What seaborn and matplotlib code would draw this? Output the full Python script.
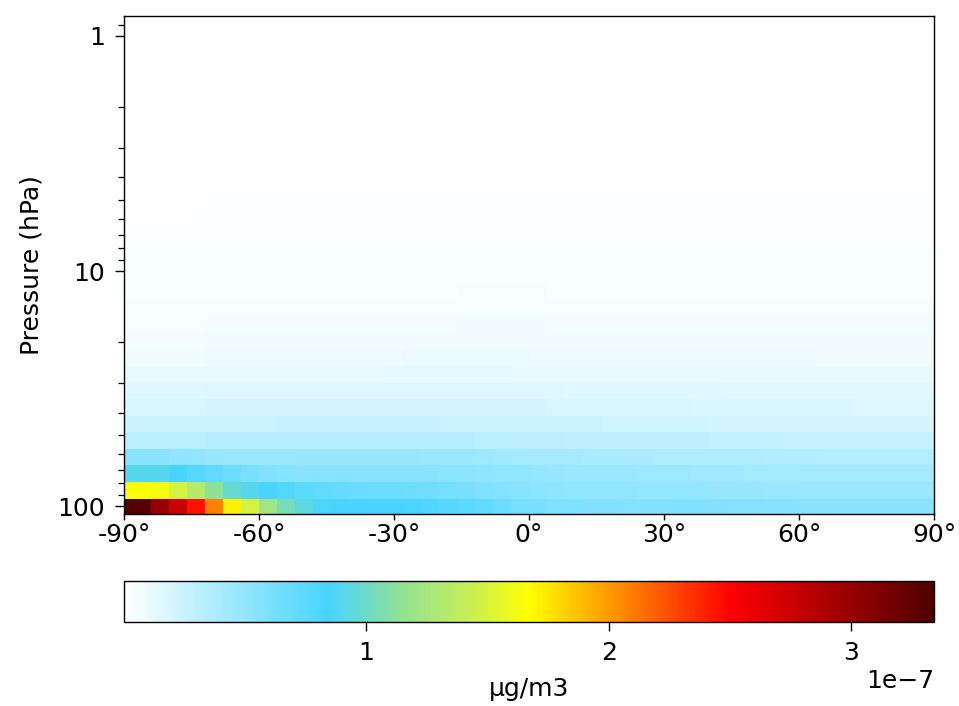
import numpy as np
import matplotlib
matplotlib.use("Agg")
import matplotlib.pyplot as plt
import seaborn as sns
from matplotlib.colors import LinearSegmentedColormap
from matplotlib.ticker import FixedLocator, FixedFormatter, LogLocator, NullFormatter

# ---------------- data ----------------
latitudes = [-90, -86, -82, -78, -74, -70, -66, -62, -58, -54, -50, -46, -42, -38, -34, -30,
             -26, -22, -18, -14, -10, -6, -2, 2, 6, 10, 14, 18, 22, 26, 30, 34, 38, 42, 46,
             50, 54, 58, 62, 66, 70, 74, 78, 82, 86, 90]
pressure = [100.51, 85.44, 72.56, 61.70, 52.52, 44.64, 37.94, 32.24, 27.41, 23.30, 19.80,
            16.83, 14.30, 12.15, 10.33, 8.78, 7.47, 6.35, 5.40, 4.59, 3.90, 3.31, 2.82,
            2.40, 2.04, 1.73, 1.47, 1.25, 1.06, 0.90]

# concentration in 1e-9 ug/m3, one list per pressure level (bottom level first)
r00 = [334,330,300,275,245,208,172,148,122,104,94,86,84,84,84,84,83,81,78,75,72,68,64,62,60,59,58,58,57,57,57,58,58,58,57,57,56,56,55,55,55,54,54,54,54,54]
r01 = [165,165,162,148,133,113,98,89,84,79,75,72,70,69,68,67,66,65,64,62,60,57,55,53,52,51,50,50,50,49,49,49,49,48,48,48,47,47,47,46,46,46,46,46,46,46]
r02 = [90,90,90,84,78,72,67,62,58,56,55,55,55,55,55,55,54,54,53,53,52,51,50,49,48,47,47,46,46,45,45,45,44,44,44,43,43,43,42,42,42,42,41,41,41,41]
r03 = [55,55,55,52,50,48,47,47,47,47,48,48,48,48,48,48,48,47,47,46,45,44,43,42,41,41,40,40,39,39,38,38,38,37,37,37,36,36,36,35,35,35,35,35,35,35]
r04 = [32,32,32,32,32,33,33,33,33,33,34,34,34,34,34,34,34,33,33,33,32,32,31,31,31,30,30,30,30,29,29,29,29,28,28,28,28,27,27,27,27,27,26,26,26,26]
r05 = [25,25,25,25,25,25,25,25,25,26,26,26,26,26,26,26,26,26,25,25,25,25,24,24,24,24,24,23,23,23,23,23,23,22,22,22,22,22,22,22,21,21,21,21,21,21]
r06 = [19,19,19,19,19,20,20,20,20,20,20,20,20,21,21,21,21,21,21,20,20,20,20,20,19,19,19,19,19,19,19,19,18,18,18,18,18,18,18,18,18,17,17,17,17,17]
r07 = [15,15,15,15,15,16,16,16,16,16,16,16,16,16,16,17,17,17,17,17,16,16,16,16,16,15,15,15,15,15,15,15,15,15,14,14,14,14,14,14,14,14,14,14,14,14]
r08 = [11,11,11,11,11,12,12,12,12,12,12,12,12,12,12,13,13,13,13,13,13,13,12,12,12,12,12,12,12,12,12,11,11,11,11,11,11,11,11,11,11,11,11,11,11,11]
r09 = [8,8,8,8,8,9,9,9,9,9,9,9,9,9,9,9,10,10,10,10,10,10,10,9,9,9,9,9,9,9,9,9,9,9,9,9,9,9,9,8,8,8,8,8,8,8]
r10 = [6,6,6,6,6,7,7,7,7,7,7,7,7,7,7,7,7,7,8,8,8,8,8,8,8,7,7,7,7,7,7,7,7,7,7,7,7,7,7,7,7,7,7,7,7,7]
r11 = [5,5,5,5,5,6,6,6,6,6,6,6,6,6,6,6,6,6,6,7,7,7,7,7,6,6,6,6,6,6,6,6,6,6,6,6,6,6,6,6,6,6,6,6,6,6]
r12 = [4.5,4.5,4.5,4.5,4.5,5,5,5,5,5,5,5,5,5,5,5,5,5,5,5,5.5,5.5,5.5,5.5,5,5,5,5,5,5,5,5,5,5,5,5,5,5,5,5,5,5,5,5,5,5]
r13 = [4,4,4,4,4,4.2,4.2,4.2,4.2,4.2,4.2,4.2,4.2,4.2,4.2,4.2,4.2,4.2,4.2,4.5,4.5,4.5,4.5,4.5,4.2,4.2,4.2,4.2,4.2,4.2,4.2,4.2,4.2,4.2,4.2,4.2,4.2,4.2,4.2,4.2,4.2,4.2,4.2,4.2,4.2,4.2]
r14 = [3.5,3.5,3.5,3.5,3.5,3.6,3.6,3.6,3.6,3.6,3.6,3.6,3.6,3.6,3.6,3.6,3.6,3.6,3.6,3.6,3.6,3.6,3.6,3.6,3.6,3.6,3.6,3.6,3.6,3.6,3.6,3.6,3.6,3.6,3.6,3.6,3.6,3.6,3.6,3.6,3.6,3.6,3.6,3.6,3.6,3.6]
r15 = [3.0,3.0,3.0,3.0,3.0,3.1,3.1,3.1,3.1,3.1,3.1,3.1,3.1,3.1,3.1,3.1,3.1,3.1,3.1,3.1,3.1,3.1,3.1,3.1,3.1,3.1,3.1,3.1,3.1,3.1,3.1,3.1,3.1,3.1,3.1,3.1,3.1,3.1,3.1,3.1,3.1,3.1,3.1,3.1,3.1,3.1]
r16 = [2.5,2.5,2.5,2.5,2.5,2.6,2.6,2.6,2.6,2.6,2.6,2.6,2.6,2.6,2.6,2.6,2.6,2.6,2.6,2.6,2.6,2.6,2.6,2.6,2.6,2.6,2.6,2.6,2.6,2.6,2.6,2.6,2.6,2.6,2.6,2.6,2.6,2.6,2.6,2.6,2.6,2.6,2.6,2.6,2.6,2.6]
r17 = [2.1,2.1,2.1,2.1,2.1,2.2,2.2,2.2,2.2,2.2,2.2,2.2,2.2,2.2,2.2,2.2,2.2,2.2,2.2,2.2,2.2,2.2,2.2,2.2,2.2,2.2,2.2,2.2,2.2,2.2,2.2,2.2,2.2,2.2,2.2,2.2,2.2,2.2,2.2,2.2,2.2,2.2,2.2,2.2,2.2,2.2]
r18 = [1.5,1.5,1.5,1.5,1.5,1.8,1.8,1.8,1.8,1.8,1.8,1.8,1.8,1.8,1.8,1.8,1.8,1.8,1.8,1.8,1.8,1.8,1.8,1.8,1.8,1.8,1.8,1.8,1.8,1.8,1.8,1.8,1.8,1.8,1.8,1.8,1.8,1.8,1.8,1.8,1.8,1.8,1.8,1.8,1.8,1.8]
r19 = [1.1,1.1,1.1,1.1,1.1,1.4,1.4,1.4,1.4,1.4,1.4,1.4,1.4,1.4,1.4,1.4,1.4,1.4,1.4,1.4,1.4,1.4,0.9,0.9,1.4,1.4,1.4,1.4,1.4,1.4,1.4,1.4,1.4,1.4,1.4,1.4,1.4,1.4,1.4,1.4,1.4,1.4,1.4,1.4,1.4,1.4]
r20 = [0.8]*46
r21 = [0.7]*46
r22 = [0.6]*46
r23 = [0.5]*46
r24 = [0.45]*46
r25 = [0.4]*46
r26 = [0.35]*46
r27 = [0.3]*46
r28 = [0.3]*46
r29 = [0.3]*46
rows = [r00, r01, r02, r03, r04, r05, r06, r07, r08, r09, r10, r11, r12, r13, r14,
        r15, r16, r17, r18, r19, r20, r21, r22, r23, r24, r25, r26, r27, r28, r29]

xtick_values = [-90, -60, -30, 0, 30, 60, 90]
xtick_labels = ["-90°", "-60°", "-30°", "0°", "30°", "60°", "90°"]
ytick_values = [1, 10, 100]
ytick_labels = ["1", "10", "100"]
cbar_ticks = [1e-7, 2e-7, 3e-7]
cbar_label = "µg/m3"
ylabel = "Pressure (hPa)"

# ---------------- style ----------------
sns.set_theme(style="ticks", rc={
    "axes.edgecolor": "black", "axes.labelcolor": "black", "text.color": "black",
    "xtick.color": "black", "ytick.color": "black", "axes.linewidth": 1.0,
})
plt.rcParams["font.family"] = ["DejaVu Sans"]

fs = 18
cmap = LinearSegmentedColormap.from_list("wbgyr", [
    (0.0, "#ffffff"), (0.25, "#48d4ff"), (0.29, "#66d9d2"), (0.34, "#90e294"),
    (0.42, "#c3ee5a"), (0.5, "#ffff00"), (0.625, "#ff8000"), (0.75, "#ff0000"),
    (1.0, "#4f0000")])

data = np.array(rows, dtype=float) * 1e-9
lat = np.array(latitudes, dtype=float)
pres = np.array(pressure, dtype=float)

fig = plt.figure(figsize=(9.59, 7.06), dpi=100)
ax = fig.add_axes([124 / 959, 1 - 514 / 706, 810 / 959, (514 - 15.7) / 706])
cax = fig.add_axes([124 / 959, 1 - 622 / 706, 810 / 959, 41 / 706])

mesh = ax.pcolormesh(lat, pres, data, cmap=cmap, shading="nearest",
                     vmin=data.min(), vmax=data.max())
ax.set_yscale("log")
ax.set_xlim(-90, 90)
ax.set_ylim(pres[0] + (pres[0] - pres[1]) / 2, pres[-1] - (pres[-2] - pres[-1]) / 2)
ax.xaxis.set_major_locator(FixedLocator(xtick_values))
ax.xaxis.set_major_formatter(FixedFormatter(xtick_labels))
ax.yaxis.set_major_locator(FixedLocator(ytick_values))
ax.yaxis.set_major_formatter(FixedFormatter(ytick_labels))
ax.yaxis.set_minor_locator(LogLocator(base=10, subs=np.arange(2, 10)))
ax.yaxis.set_minor_formatter(NullFormatter())
ax.tick_params(axis="both", which="both", direction="out", labelsize=fs, color="black")
ax.tick_params(axis="x", which="major", length=4, width=1.0, pad=2.5)
ax.tick_params(axis="y", which="major", length=6.5, width=1.0, pad=7)
ax.tick_params(axis="y", which="minor", length=4, width=0.9)
ax.set_ylabel(ylabel, fontsize=fs, labelpad=10)
for s in ax.spines.values():
    s.set_visible(True)

cb = fig.colorbar(mesh, cax=cax, orientation="horizontal", ticks=cbar_ticks)
cb.set_label(cbar_label, fontsize=fs, labelpad=9)
cb.ax.tick_params(labelsize=fs, direction="out", length=6.5, width=1.0, pad=7)
cb.ax.xaxis.get_offset_text().set_fontsize(fs)
cb.outline.set_linewidth(1.0)

fig.savefig("out.png", dpi=100)
